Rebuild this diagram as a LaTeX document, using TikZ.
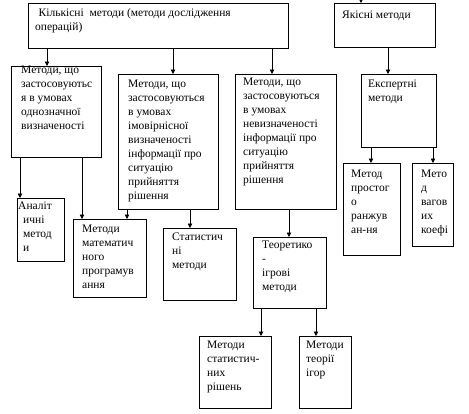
\documentclass[tikz,border=0pt]{standalone}
\usepackage{fontspec}
\setmainfont{Liberation Serif}
\usetikzlibrary{arrows.meta}

\begin{document}
\begin{tikzpicture}[
    x=1pt, y=-1pt,
    box/.style={rectangle, draw, line width=0.8pt, anchor=north west, inner sep=0pt},
    txt/.style={anchor=north west, align=left, inner sep=0pt, font=\fontsize{11.5}{14}\selectfont, execute at begin node=\strut},
    arrow/.style={-{Triangle[length=4.5pt, width=4.5pt]}, line width=0.8pt},
]
\useasboundingbox (0,0) rectangle (469,413);

% Top-level groups
\node[box, minimum width=260pt, minimum height=45pt] (kil) at (28,3) {};
\node[txt] (kil-t) at (35,8.7) {\hspace*{3.5pt}Кількісні\ \ методи (методи дослідження\\операцій)};
\node[box, minimum width=101pt, minimum height=44pt] (yak) at (334,3) {};
\node[txt] (yak-t) at (342,8.2) {Якісні методи};

% Second level
\node[box, minimum width=90pt, minimum height=91pt] (odn) at (11,66) {};
\node[txt] (odn-t) at (21,66.2) {Методи, що\\застосовуютьс\\я в умовах\\однозначної\\визначеності};
\node[box, minimum width=100pt, minimum height=135pt] (imov) at (118,74) {};
\node[txt] (imov-t) at (128,80.2) {Методи, що\\застосовуються\\в умовах\\імовірнісної\\визначеності\\інформації про\\ситуацію\\прийняття\\рішення};
\node[box, minimum width=101pt, minimum height=135pt] (nevyz) at (235,74) {};
\node[txt] (nevyz-t) at (243,78.2) {Методи, що\\застосовуються\\в умовах\\невизначеності\\інформації про\\ситуацію\\прийняття\\рішення};
\node[box, minimum width=75pt, minimum height=73pt] (eksp) at (361,74) {};
\node[txt] (eksp-t) at (368,79.5) {Експертні\\методи};

% Third level
\node[box, minimum width=47pt, minimum height=63pt] (anal) at (17,198) {};
\node[txt] (anal-t) at (18,201.5) {Аналіт\\\hspace*{5pt}ичні\\\hspace*{5pt}метод\\\hspace*{5pt}и};
\node[box, minimum width=73pt, minimum height=78pt] (mat) at (73,219) {};
\node[txt] (mat-t) at (82,224.5) {Методи\\математич\\ного\\програмув\\ання};
\node[box, minimum width=73pt, minimum height=72pt] (stat) at (163,228) {};
\node[txt] (stat-t) at (172,232.5) {Статистич\\ні\\методи};
\node[box, minimum width=73pt, minimum height=71pt] (teor) at (253,237) {};
\node[txt] (teor-t) at (262,241) {Теоретико\\-\\ігрові\\методи};
\node[box, minimum width=57pt, minimum height=92pt] (rank) at (343,163) {};
\node[txt] (rank-t) at (351,170.2) {Метод\\простог\\о\\ранжув\\ан-ня};
\node[box, minimum width=41pt, minimum height=83pt] (vag) at (412,163) {};
\node[txt] (vag-t) at (421,170.2) {Мето\\д\\вагов\\их\\коефі};

% Fourth level
\node[box, minimum width=72pt, minimum height=72pt] (srish) at (199,336) {};
\node[txt] (srish-t) at (207,341.2) {Методи\\статистич-\\них\\рішень};
\node[box, minimum width=52pt, minimum height=72pt] (igor) at (299,336) {};
\node[txt] (igor-t) at (306,341.2) {Методи\\теорії\\ігор};

% Arrows
\coordinate (yakin) at (361,-8);
\draw[arrow] (yakin) -- (yakin |- yak.north);
\draw[arrow] ([xshift=36pt]odn.north west |- kil.south) -- ([xshift=36pt]odn.north west);
\draw[arrow] ([xshift=55pt]imov.north west |- kil.south) -- ([xshift=55pt]imov.north west);
\draw[arrow] ([xshift=37pt]nevyz.north west |- kil.south) -- ([xshift=37pt]nevyz.north west);
\draw[arrow] ([xshift=27pt]eksp.north west |- yak.south) -- ([xshift=27pt]eksp.north west);
\draw[arrow] ([xshift=3pt]anal.north west |- odn.south) -- ([xshift=3pt]anal.north west);
\draw[arrow] ([xshift=9pt]mat.north west |- odn.south) -- ([xshift=9pt]mat.north west);
\draw[arrow] ([xshift=54pt]mat.north west |- imov.south) -- ([xshift=54pt]mat.north west);
\draw[arrow] ([xshift=27pt]stat.north west |- imov.south) -- ([xshift=27pt]stat.north west);
\draw[arrow] ([xshift=36pt]teor.north west |- nevyz.south) -- ([xshift=36pt]teor.north west);
\draw[arrow] ([xshift=28pt]rank.north west |- eksp.south) -- ([xshift=28pt]rank.north west);
\draw[arrow] ([xshift=21pt]vag.north west |- eksp.south) -- ([xshift=21pt]vag.north west);
\draw[arrow] ([xshift=62pt]srish.north west |- teor.south) -- ([xshift=62pt]srish.north west);
\draw[arrow] ([xshift=17pt]igor.north west |- teor.south) -- ([xshift=17pt]igor.north west);

\end{tikzpicture}
\end{document}
